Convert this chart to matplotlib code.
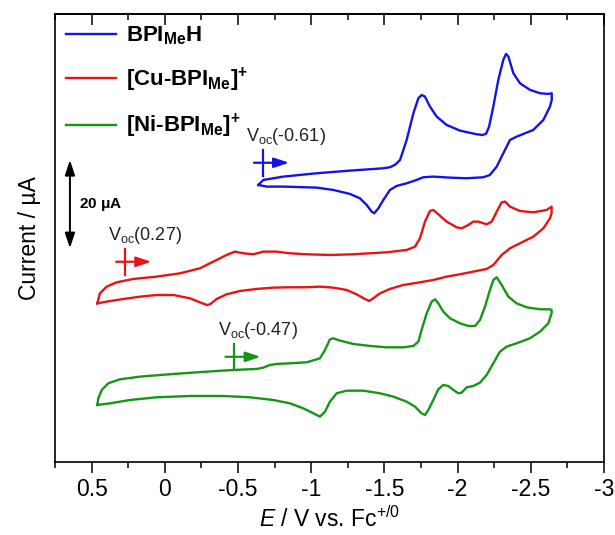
import matplotlib.pyplot as plt
import numpy as np

plt.rcParams['font.family'] = ['Liberation Sans', 'DejaVu Sans']
plt.rcParams['mathtext.fontset'] = 'custom'
plt.rcParams['mathtext.rm'] = 'Liberation Sans'
plt.rcParams['mathtext.it'] = 'Liberation Sans:italic'
plt.rcParams['mathtext.bf'] = 'Liberation Sans:bold'

# --- BPI_Me H (upper branch left->right, lower branch right->left), E in V, I in uA (offset)
bpi_E_fwd = [-0.639, -0.673, -0.810, -1.037, -1.265, -1.493, -1.540, -1.575, -1.607, -1.652, -1.698,
             -1.732, -1.755, -1.777, -1.811, -1.857, -1.925, -2.016, -2.130, -2.170, -2.195, -2.215,
             -2.244, -2.278, -2.312, -2.331, -2.347, -2.381, -2.426, -2.495, -2.563, -2.620, -2.643]
bpi_I_fwd = [62.96, 64.09, 64.85, 65.61, 66.21, 66.74, 67.00, 67.60, 68.64, 73.18, 79.24,
             82.65, 83.41, 83.03, 80.76, 78.49, 76.59, 75.30, 74.47, 74.30, 74.60, 76.20,
             80.76, 86.82, 91.36, 92.73, 92.12, 88.33, 86.06, 84.55, 83.79, 83.64, 83.79]
bpi_E_rev = [-2.643, -2.631, -2.586, -2.517, -2.404, -2.358, -2.312, -2.267, -2.221, -2.176,
             -2.062, -1.948, -1.834, -1.766, -1.720, -1.652, -1.584, -1.538, -1.493, -1.459,
             -1.431, -1.413, -1.379, -1.333, -1.265, -1.151, -1.037, -0.810, -0.696, -0.639]
bpi_I_rev = [82.27, 80.76, 77.73, 75.45, 73.94, 73.18, 70.15, 67.12, 65.23, 64.70,
             64.47, 64.62, 64.85, 64.70, 64.09, 63.33, 62.73, 61.82, 59.55, 57.65,
             56.52, 56.89, 58.41, 59.92, 60.91, 61.82, 62.35, 62.58, 62.58, 62.96]

# --- [Cu-BPI_Me]+
cu_E_fwd = [0.461, 0.443, 0.397, 0.329, 0.215, 0.056, -0.104, -0.240, -0.331, -0.422,
            -0.479, -0.536, -0.605, -0.673, -0.764, -0.855, -0.969, -1.128, -1.288, -1.515,
            -1.652, -1.709, -1.743, -1.777, -1.811, -1.834, -1.868, -1.925, -1.993, -2.028,
            -2.073, -2.107, -2.142, -2.198, -2.233, -2.267, -2.301, -2.324, -2.358, -2.426,
            -2.517, -2.608, -2.642]
cu_I_fwd = [36.06, 38.33, 39.85, 40.83, 41.59, 42.12, 42.88, 44.01, 45.53, 47.04,
            47.80, 47.42, 47.20, 47.80, 47.80, 47.42, 47.20, 47.04, 47.20, 47.65,
            48.18, 48.94, 50.83, 54.62, 57.04, 57.27, 56.29, 54.62, 53.33, 53.10,
            53.86, 54.62, 54.62, 54.01, 54.62, 56.89, 59.01, 59.17, 58.03, 57.04,
            56.74, 57.27, 58.03]
cu_E_rev = [-2.642, -2.631, -2.586, -2.517, -2.426, -2.358, -2.301, -2.244, -2.198, -2.107,
            -2.016, -1.925, -1.834, -1.743, -1.629, -1.538, -1.470, -1.424, -1.397, -1.367,
            -1.310, -1.242, -1.151, -1.060, -0.969, -0.855, -0.741, -0.627, -0.514, -0.422,
            -0.354, -0.309, -0.286, -0.240, -0.172, -0.058, 0.056, 0.169, 0.283, 0.397, 0.461]
cu_I_rev = [56.51, 55.38, 53.10, 51.21, 49.70, 48.56, 47.04, 44.77, 43.86, 43.26,
            42.65, 42.12, 41.36, 40.83, 40.23, 39.32, 38.33, 37.20, 36.59, 37.04,
            38.11, 39.09, 39.62, 39.85, 39.70, 39.70, 39.62, 39.32, 38.86, 38.11,
            37.04, 35.83, 35.68, 36.29, 37.20, 37.95, 37.95, 37.57, 37.04, 36.44, 36.06]

# --- [Ni-BPI_Me]+
ni_E_fwd = [0.461, 0.454, 0.431, 0.386, 0.306, 0.169, -0.058, -0.286, -0.468, -0.627,
            -0.673, -0.718, -0.764, -0.855, -0.969, -1.060, -1.094, -1.128, -1.151, -1.197,
            -1.288, -1.402, -1.515, -1.629, -1.698, -1.732, -1.754, -1.789, -1.823, -1.846,
            -1.868, -1.902, -1.948, -2.016, -2.073, -2.119, -2.153, -2.187, -2.221, -2.244,
            -2.267, -2.301, -2.346, -2.403, -2.472, -2.563, -2.631, -2.642]
ni_I_fwd = [12.96, 14.47, 16.37, 17.88, 18.79, 19.40, 20.00, 20.53, 20.91, 21.14,
            21.44, 22.05, 22.28, 22.43, 22.65, 23.56, 25.45, 27.88, 28.11, 27.58,
            26.82, 26.37, 26.06, 26.06, 26.37, 27.35, 30.00, 33.79, 36.44, 36.97,
            36.06, 34.17, 32.65, 31.52, 30.91, 30.91, 32.27, 35.30, 39.09, 41.36,
            41.97, 40.23, 37.58, 36.06, 35.15, 34.70, 34.70, 34.55]
ni_E_rev = [-2.642, -2.620, -2.563, -2.494, -2.403, -2.335, -2.289, -2.244, -2.198, -2.153,
            -2.107, -2.062, -2.028, -2.005, -1.971, -1.937, -1.902, -1.868, -1.834, -1.800,
            -1.777, -1.754, -1.709, -1.652, -1.561, -1.470, -1.356, -1.242, -1.174, -1.128,
            -1.094, -1.060, -1.015, -0.946, -0.855, -0.741, -0.582, -0.400, -0.172, 0.056,
            0.238, 0.374, 0.461]
ni_I_rev = [33.79, 31.52, 29.62, 28.11, 26.97, 26.22, 25.08, 22.43, 19.77, 18.03,
            17.27, 16.97, 15.76, 15.61, 16.37, 17.27, 17.50, 16.52, 14.09, 11.82,
            10.68, 11.06, 12.58, 13.71, 14.85, 15.61, 16.21, 16.21, 15.61, 13.71,
            11.44, 10.30, 11.06, 12.20, 13.33, 14.09, 14.70, 15.00, 15.00, 14.70,
            14.09, 13.33, 12.96]

names = ['BPI$_{\\mathbf{Me}}$H', '[Cu-BPI$_{\\mathbf{Me}}$]$^{\\mathbf{+}}$',
         '[Ni-BPI$_{\\mathbf{Me}}$]$^{\\mathbf{+}}$']
colors = ['#1414e6', '#e61414', '#169616']

# open-circuit markers
voc_E = [-0.669, 0.272, -0.475]
voc_I = [68.0, 45.5, 23.9]
voc_text = ['V$_{\\mathregular{oc}}$(-0.61)', 'V$_{\\mathregular{oc}}$(0.27)',
            'V$_{\\mathregular{oc}}$(-0.47)']

# scale bar
bar_E = 0.648
bar_I = [48.6, 68.6]

fig = plt.figure(figsize=(6.15, 5.35), dpi=100)
ax = fig.add_axes([55 / 615, 73 / 535, 549 / 615, 448 / 535])

curves = [(bpi_E_fwd, bpi_I_fwd, bpi_E_rev, bpi_I_rev),
          (cu_E_fwd, cu_I_fwd, cu_E_rev, cu_I_rev),
          (ni_E_fwd, ni_I_fwd, ni_E_rev, ni_I_rev)]
for (ef, i_f, er, i_r), nm, c in zip(curves, names, colors):
    ax.plot(ef + er, i_f + i_r, color=c, lw=1.7, label=nm, solid_joinstyle='round')

for e, i, t, c in zip(voc_E, voc_I, voc_text, colors):
    ax.plot([e, e], [i - 3, i + 3], color=c, lw=1.6)
    ax.annotate('', xy=(e - 0.18, i), xytext=(e + 0.06, i),
                arrowprops=dict(arrowstyle='-|>,head_length=0.9,head_width=0.3',
                                color=c, lw=1.6, shrinkA=0, shrinkB=0))
    ax.text(e + 0.115, i + 3.6, t, color='#222222', fontsize=13, ha='left', va='bottom')

ax.annotate('', xy=(bar_E, bar_I[1]), xytext=(bar_E, bar_I[0]),
            arrowprops=dict(arrowstyle='<|-|>,head_length=0.9,head_width=0.3',
                            color='k', lw=1.4, shrinkA=0, shrinkB=0))
ax.text(bar_E - 0.065, np.mean(bar_I), '20 $\\mathbf{\\mu}$A', fontsize=11,
        fontweight='bold', ha='left', va='center')

major = [0.5, 0, -0.5, -1, -1.5, -2, -2.5, -3]
major_lbl = ['0.5', '0', '-0.5', '-1', '-1.5', '-2', '-2.5', '-3']
minor = np.arange(0.75, -3.01, -0.25)

ax.set_xlim(0.75, -3)
ax.set_ylim(0, 101.8)
ax.set_yticks([])
ax.set_xticks(major)
ax.set_xticklabels(major_lbl)
ax.set_xticks(minor, minor=True)
ax.tick_params(axis='x', which='both', direction='out', labelsize=16.5, width=1.1)
ax.tick_params(axis='x', which='major', length=8)
ax.tick_params(axis='x', which='minor', length=4)
for sp in ax.spines.values():
    sp.set_linewidth(1.2)

top = ax.secondary_xaxis('top')
top.set_xticks(major)
top.set_xticks(minor, minor=True)
top.tick_params(axis='x', which='both', direction='in', labeltop=False, width=1.1)
top.tick_params(axis='x', which='major', length=8)
top.tick_params(axis='x', which='minor', length=4)
top.spines['top'].set_linewidth(1.2)

ax.set_xlabel('$\\mathit{E}$ / V vs. Fc$^{+/0}$', fontsize=16.5, labelpad=4)
ax.set_ylabel('Current / \u00b5A', fontsize=16.5, labelpad=10)

leg = ax.legend(loc='upper left', frameon=False, prop={'weight': 'bold', 'size': 16},
                handlelength=2.25, labelspacing=0.82, borderaxespad=0.2, borderpad=0.28,
                handletextpad=0.45)

fig.savefig('out.png', dpi=100)
